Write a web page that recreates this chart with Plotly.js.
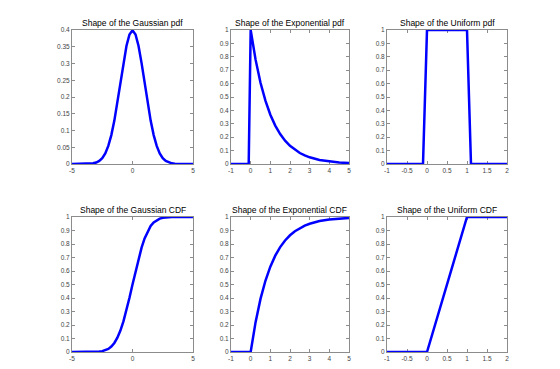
<!DOCTYPE html>
<html>
<head>
<meta charset="utf-8">
<script src="https://cdn.plot.ly/plotly-3.0.1.min.js"></script>
<style>html,body{margin:0;padding:0;background:#fff;}#chart{width:560px;height:369px;}</style>
</head>
<body>
<div id="chart"></div>
<script>
// Gaussian pdf / CDF
const gaussX = [-5, -4, -3.75, -3.5, -3.25, -3, -2.75, -2.5, -2.25, -2, -1.75, -1.5, -1.25, -1, -0.75, -0.5, -0.25, 0, 0.25, 0.5, 0.75, 1, 1.25, 1.5, 1.75, 2, 2.25, 2.5, 2.75, 3, 3.25, 3.5, 3.75, 4, 5];
const gaussPdf = [0, 0.0001, 0.0004, 0.0009, 0.002, 0.0044, 0.0091, 0.0175, 0.0317, 0.054, 0.0863, 0.1295, 0.1826, 0.242, 0.3011, 0.3521, 0.3867, 0.3989, 0.3867, 0.3521, 0.3011, 0.242, 0.1826, 0.1295, 0.0863, 0.054, 0.0317, 0.0175, 0.0091, 0.0044, 0.002, 0.0009, 0.0004, 0.0001, 0];
const gaussCdf = [0, 0, 0.0001, 0.0002, 0.0006, 0.0013, 0.003, 0.0062, 0.0122, 0.0228, 0.0401, 0.0668, 0.1056, 0.1587, 0.2266, 0.3085, 0.4013, 0.5, 0.5987, 0.6915, 0.7734, 0.8413, 0.8944, 0.9332, 0.9599, 0.9772, 0.9878, 0.9938, 0.997, 0.9987, 0.9994, 0.9998, 0.9999, 1, 1];
// Exponential pdf / CDF
const expX = [-1, -0.1, 0, 0.25, 0.5, 0.75, 1, 1.25, 1.5, 1.75, 2, 2.25, 2.5, 2.75, 3, 3.5, 4, 4.5, 5];
const expPdf = [0, 0, 1, 0.7788, 0.6065, 0.4724, 0.3679, 0.2865, 0.2231, 0.1738, 0.1353, 0.1054, 0.0821, 0.0639, 0.0498, 0.0302, 0.0183, 0.0111, 0.0067];
const expCdfX = [-1, 0, 0.25, 0.5, 0.75, 1, 1.25, 1.5, 1.75, 2, 2.25, 2.5, 2.75, 3, 3.5, 4, 4.5, 5];
const expCdf = [0, 0, 0.2212, 0.3935, 0.5276, 0.6321, 0.7135, 0.7769, 0.8262, 0.8647, 0.8946, 0.9179, 0.9361, 0.9502, 0.9698, 0.9817, 0.9889, 0.9933];
// Uniform pdf / CDF
const unifX = [-1, -0.1, 0, 1, 1.1, 2];
const unifPdf = [0, 0, 1, 1, 0, 0];
const unifCdfX = [-1, 0, 1, 2];
const unifCdf = [0, 0, 1, 1];

const titles = ["Shape of the Gaussian pdf", "Shape of the Exponential pdf", "Shape of the Uniform pdf",
                "Shape of the Gaussian CDF", "Shape of the Exponential CDF", "Shape of the Uniform CDF"];

const gaussTicks = [-5, 0, 5];
const expTicks = [-1, 0, 1, 2, 3, 4, 5];
const unifTicks = [-1, -0.5, 0, 0.5, 1, 1.5, 2];
const gaussPdfYTicks = [0, 0.05, 0.1, 0.15, 0.2, 0.25, 0.3, 0.35, 0.4];
const unitYTicks = [0, 0.1, 0.2, 0.3, 0.4, 0.5, 0.6, 0.7, 0.8, 0.9, 1];

const lineStyle = {color: '#0000ff', width: 2.5};
const traces = [
  {x: gaussX, y: gaussPdf, xaxis: 'x', yaxis: 'y'},
  {x: expX, y: expPdf, xaxis: 'x2', yaxis: 'y2'},
  {x: unifX, y: unifPdf, xaxis: 'x3', yaxis: 'y3'},
  {x: gaussX, y: gaussCdf, xaxis: 'x4', yaxis: 'y4'},
  {x: expCdfX, y: expCdf, xaxis: 'x5', yaxis: 'y5'},
  {x: unifCdfX, y: unifCdf, xaxis: 'x6', yaxis: 'y6'}
].map(t => Object.assign(t, {type: 'scatter', mode: 'lines', line: lineStyle, showlegend: false, hoverinfo: 'skip'}));

const W = 560, H = 369;
const colsPx = [[72, 193], [231, 349], [387, 507]];
const rowsPx = [[30, 164], [217, 352]];
const xDom = colsPx.map(c => [c[0] / W, c[1] / W]);
const yDom = rowsPx.map(r => [1 - r[1] / H, 1 - r[0] / H]);

function axBase() {
  return {
    showgrid: false, zeroline: false, showline: true, linecolor: '#8c8c8c', linewidth: 1,
    mirror: 'ticks', ticks: 'inside', ticklen: 3, tickcolor: '#8c8c8c', tickwidth: 1,
    tickfont: {family: 'Liberation Sans, Arial, sans-serif', size: 6.5, color: '#444'},
    tickmode: 'array', fixedrange: true, layer: 'below traces'
  };
}

const xTickSets = [gaussTicks, expTicks, unifTicks, gaussTicks, expTicks, unifTicks];
const xRanges = [[-5, 5], [-1, 5], [-1, 2], [-5, 5], [-1, 5], [-1, 2]];
const yTickSets = [gaussPdfYTicks, unitYTicks, unitYTicks, unitYTicks, unitYTicks, unitYTicks];
const yRanges = [[0, 0.4], [0, 1], [0, 1], [0, 1], [0, 1], [0, 1]];

const layout = {
  width: W, height: H, autosize: false,
  margin: {l: 0, r: 0, t: 0, b: 0},
  paper_bgcolor: '#fff', plot_bgcolor: '#fff',
  annotations: []
};

for (let i = 0; i < 6; i++) {
  const col = i % 3, row = Math.floor(i / 3);
  const xn = i === 0 ? 'xaxis' : 'xaxis' + (i + 1);
  const yn = i === 0 ? 'yaxis' : 'yaxis' + (i + 1);
  const xa = axBase();
  xa.domain = xDom[col];
  xa.range = xRanges[i];
  xa.tickvals = xTickSets[i];
  xa.ticktext = xTickSets[i].map(String);
  xa.anchor = i === 0 ? 'y' : 'y' + (i + 1);
  const ya = axBase();
  ya.domain = yDom[row];
  ya.range = yRanges[i];
  ya.tickvals = yTickSets[i];
  ya.ticktext = yTickSets[i].map(String);
  ya.anchor = i === 0 ? 'x' : 'x' + (i + 1);
  layout[xn] = xa;
  layout[yn] = ya;
  layout.annotations.push({
    text: titles[i], showarrow: false,
    xref: 'paper', yref: 'paper',
    x: (xDom[col][0] + xDom[col][1]) / 2, y: yDom[row][1],
    xanchor: 'center', yanchor: 'bottom', yshift: 0,
    font: {family: 'Liberation Sans, Arial, sans-serif', size: 8.5, color: '#000'}
  });
}

Plotly.newPlot('chart', traces, layout, {displayModeBar: false, staticPlot: true});
</script>
</body>
</html>
